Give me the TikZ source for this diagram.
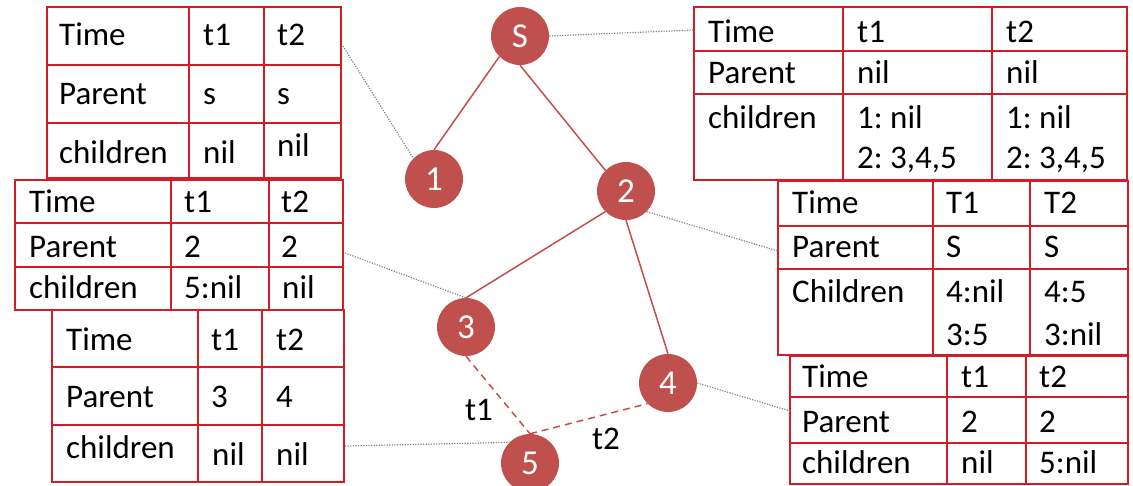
\documentclass[tikz,border=0pt]{standalone}
\usepackage{fontspec}
\setmainfont{Carlito}
\usetikzlibrary{fit}
\frenchspacing

\definecolor{nodered}{RGB}{192,80,77}
\definecolor{gridred}{RGB}{212,28,38}
\definecolor{leadgray}{RGB}{130,130,130}

\newcommand\cellfont{\fontsize{33}{40}\selectfont}
\newcommand\vertexfont{\fontsize{35}{40}\selectfont}

\tikzset{
  vertex/.style={circle, fill=nodered, minimum size=58pt, inner sep=0pt,
                 text=white, font=\vertexfont},
  tree/.style={draw=nodered, line width=1.5pt},
  later/.style={tree, dash pattern=on 7pt off 5pt},
  lead/.style={draw=leadgray, line width=1.2pt, dash pattern=on 1.2pt off 1.4pt},
  frame/.style={draw=gridred, line width=2pt, inner sep=0pt},
  rule/.style={draw=gridred, line width=2pt},
  entry/.style={anchor=base west, inner sep=0pt, font=\cellfont},
  tag/.style={inner sep=0pt, font=\cellfont},
}

% #1 name; #2-#5 column edges; #6-#9 row edges
\newcommand\gridlines[9]{%
  \node[frame, fit={(#2,#6)(#5,#9)}] (#1) {};
  \draw[rule] (#3,#6) -- (#3,#9) (#4,#6) -- (#4,#9)
              (#2,#7) -- (#5,#7) (#2,#8) -- (#5,#8);
}

\begin{document}
\begin{tikzpicture}[x=1pt, y=-1pt]
\useasboundingbox (0,0) rectangle (1133,485);

% ---- record tables ----
\gridlines{tA}{47}{189}{264}{341}{7}{65}{123}{178}
\node[entry] (a11) at (59,45)  {Time};
\node[entry] (a12) at (203,45) {t1};
\node[entry] (a13) at (277,45) {t2};
\node[entry] (a21) at (59,104) {Parent};
\node[entry] (a22) at (203,104) {s};
\node[entry] (a23) at (277,104) {s};
\node[entry] (a31) at (59,163) {children};
\node[entry] (a32) at (203,163) {nil};
\node[entry] (a33) at (277,156) {nil};

\gridlines{tB}{15}{171}{269}{343}{180}{223}{267}{310}
\node[entry] (b11) at (29,212)  {Time};
\node[entry] (b12) at (184,212) {t1};
\node[entry] (b13) at (281,212) {t2};
\node[entry] (b21) at (29,257)  {Parent};
\node[entry] (b22) at (184,257) {2};
\node[entry] (b23) at (281,257) {2};
\node[entry] (b31) at (29,298)  {children};
\node[entry] (b32) at (184,298) {5:nil};
\node[entry] (b33) at (282,298) {nil};

\gridlines{tC}{52}{198}{262}{344}{310}{367}{425}{482}
\node[entry] (c11) at (66,350)  {Time};
\node[entry] (c12) at (211,350) {t1};
\node[entry] (c13) at (276,350) {t2};
\node[entry] (c21) at (66,407)  {Parent};
\node[entry] (c22) at (211,407) {3};
\node[entry] (c23) at (276,407) {4};
\node[entry] (c31) at (66,458)  {children};
\node[entry] (c32) at (212,465) {nil};
\node[entry] (c33) at (276,465) {nil};

\gridlines{tD}{694}{843}{992}{1127}{7}{51}{94}{180}
\node[entry] (d11) at (708,42)   {Time};
\node[entry] (d12) at (857,42)   {t1};
\node[entry] (d13) at (1006,42)  {t2};
\node[entry] (d21) at (708,83)   {Parent};
\node[entry] (d22) at (857,83)   {nil};
\node[entry] (d23) at (1006,83)  {nil};
\node[entry] (d31) at (708,128)  {children};
\node[entry] (d32) at (857,128)  {1: nil};
\node[entry] (d32b) at (857,168) {2: 3,4,5};
\node[entry] (d33) at (1006,128) {1: nil};
\node[entry] (d33b) at (1006,168) {2: 3,4,5};

\gridlines{tE}{778}{933}{1030}{1128}{181}{226}{269}{355}
\node[entry] (e11) at (792,213)   {Time};
\node[entry] (e12) at (946,213)   {T1};
\node[entry] (e13) at (1044,213)  {T2};
\node[entry] (e21) at (792,257)   {Parent};
\node[entry] (e22) at (946,257)   {S};
\node[entry] (e23) at (1044,257)  {S};
\node[entry] (e31) at (792,302)   {Children};
\node[entry] (e32) at (946,302)   {4:nil};
\node[entry] (e32b) at (946,345)  {3:5};
\node[entry] (e33) at (1044,302)  {4:5};
\node[entry] (e33b) at (1044,345) {3:nil};

\gridlines{tF}{790}{947}{1026}{1128}{356}{397}{443}{484}
\node[entry] (f11) at (802,387)  {Time};
\node[entry] (f12) at (961,387)  {t1};
\node[entry] (f13) at (1039,387) {t2};
\node[entry] (f21) at (802,432)  {Parent};
\node[entry] (f22) at (961,432)  {2};
\node[entry] (f23) at (1039,432) {2};
\node[entry] (f31) at (802,473)  {children};
\node[entry] (f32) at (961,473)  {nil};
\node[entry] (f33) at (1039,473) {5:nil};

% ---- tree ----
\node[vertex] (nS) at (520,36)  {S};
\node[vertex] (n1) at (434,179) {1};
\node[vertex] (n2) at (626,191) {2};
\node[vertex] (n3) at (466,327) {3};
\node[vertex] (n4) at (668,383) {4};
\node[vertex] (n5) at (530,463) {5};

\draw[tree] (nS.south west) -- (n1.north);
\draw[tree] (nS.south) -- (n2.north west);
\draw[tree] (n2.south west) -- (n3.north);
\draw[tree] (n2.south) -- (n4.north);
\draw[later] (n3.south) -- (n5.north);
\draw[later] (n5.north) -- (n4.south west);

\node[tag] (lab1) at (479,410) {t1};
\node[tag] (lab2) at (606,439) {t2};

% ---- leaders from records to vertices ----
\coordinate (tA-out) at (343,46);
\coordinate (tB-out) at (345,253);
\coordinate (tC-out) at (345,446);
\coordinate (tD-in)  at (694,30);
\coordinate (tE-in)  at (778,251);
\coordinate (tF-in)  at (790,411);

\draw[lead] (tA-out) -- (n1.north west);
\draw[lead] (tB-out) -- (n3.north);
\draw[lead] (tC-out) -- (n5.north west);
\draw[lead] (nS.east) -- (tD-in);
\draw[lead] (n2.south east) -- (tE-in);
\draw[lead] (n4.east) -- (tF-in);
\end{tikzpicture}
\end{document}
